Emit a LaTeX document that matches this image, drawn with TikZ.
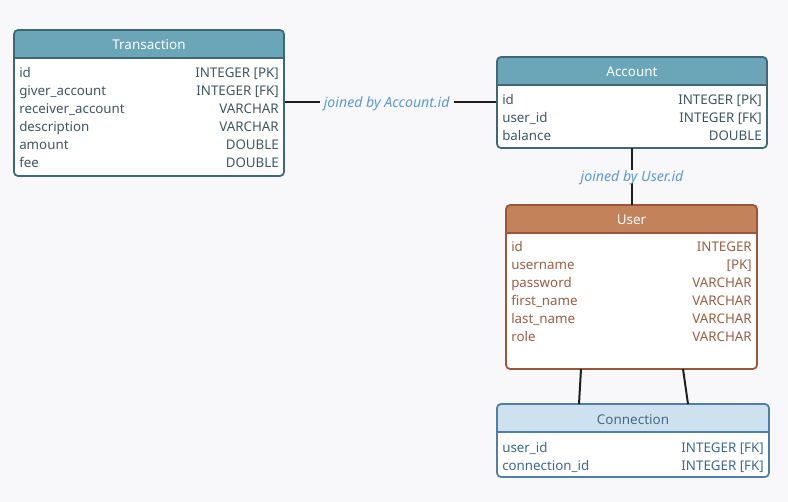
\documentclass[tikz,border=0pt]{standalone}
\usepackage{fontspec}
\setmainfont{Noto Sans}
\usetikzlibrary{fit}
\definecolor{bg}{HTML}{F8F8FB}
\definecolor{thdr}{HTML}{6AA5B8}
\definecolor{tbrd}{HTML}{3E6878}
\definecolor{ttxt}{HTML}{3E5863}
\definecolor{uhdr}{HTML}{C4825B}
\definecolor{ubrd}{HTML}{9B5538}
\definecolor{utxt}{HTML}{9C5E44}
\definecolor{chdr}{HTML}{CDE1EF}
\definecolor{cbrd}{HTML}{4F7FA8}
\definecolor{ctxt}{HTML}{3C6893}
\definecolor{ctit}{HTML}{466A84}
\definecolor{lbl}{HTML}{5A9AD2}
\definecolor{cn}{HTML}{1E1E1E}
\tikzset{
  txt/.style={font=\fontsize{10}{12}\selectfont, inner sep=0pt, text height=9pt, text depth=1pt},
  rowl/.style={txt, anchor=west},
  rowr/.style={txt, anchor=east},
  ttl/.style={txt, font=\fontsize{10.1}{12}\selectfont},
  conn/.style={draw=cn, line width=1.5pt},
  jlbl/.style={txt, text=lbl, font=\fontsize{10.6}{12}\selectfont\itshape, fill=bg, inner xsep=3pt, inner ysep=0pt},
}
% name, x1, y1, x2, y2, header-bottom, colour prefix, title
\newcommand\ertable[8]{%
  \begin{scope}
    \clip[rounded corners=3pt] (#2,#3) rectangle (#4,#5);
    \fill[white] (#2,#3) rectangle (#4,#5);
    \fill[#7hdr] (#2,#3) rectangle (#4,#6);
  \end{scope}
  \draw[#7brd, line width=1.3pt] (#2,#6) -- (#4,#6);
  \node[fit={(#2,#3) (#4,#5)}, inner sep=0pt, draw=#7brd, line width=1.3pt, rounded corners=3pt] (#1) {};
}
\begin{document}
\begin{tikzpicture}[x=0.75pt, y=-0.75pt]
\fill[bg] (0,0) rectangle (788,502);
\useasboundingbox (0,0) rectangle (788,502);

% Transaction
\ertable{trans}{14}{30}{284}{176}{58}{t}{Transaction}
\node[ttl, text=white] (transT) at (149,44) {Transaction};
\foreach \y/\a/\b in {72/id/{INTEGER [PK]}, 90/giver\_account/{INTEGER [FK]}, 108/receiver\_account/VARCHAR, 126/description/VARCHAR, 144/amount/DOUBLE, 162/fee/DOUBLE}{
  \node[rowl, text=ttxt] at (19,\y) {\a};
  \node[rowr, text=ttxt] at (279,\y) {\b};
}

% Account
\ertable{acct}{497}{57}{767}{148}{85}{t}{Account}
\node[ttl, text=white] (acctT) at (632,71) {Account};
\foreach \y/\a/\b in {99/id/{INTEGER [PK]}, 117/user\_id/{INTEGER [FK]}, 135/balance/DOUBLE}{
  \node[rowl, text=ttxt] at (502,\y) {\a};
  \node[rowr, text=ttxt] at (762,\y) {\b};
}

% User
\ertable{user}{506}{205}{757}{369}{233}{u}{User}
\node[ttl, text=white] (userT) at (631.5,219) {User};
\foreach \y/\a/\b in {246.5/id/INTEGER, 264.5/username/{[PK]}, 282.5/password/VARCHAR, 300.5/first\_name/VARCHAR, 318.5/last\_name/VARCHAR, 336.5/role/VARCHAR}{
  \node[rowl, text=utxt] at (511,\y) {\a};
  \node[rowr, text=utxt] at (752,\y) {\b};
}

% Connection
\ertable{cnx}{497}{404}{769}{477}{432}{c}{Connection}
\node[ttl, text=ctit] (cnxT) at (633,419) {Connection};
\foreach \y/\a/\b in {447/user\_id/{INTEGER [FK]}, 465/connection\_id/{INTEGER [FK]}}{
  \node[rowl, text=ctxt] at (502,\y) {\a};
  \node[rowr, text=ctxt] at (764,\y) {\b};
}

% connectors
\coordinate (tA) at (trans.east |- 0,102);
\coordinate (aT) at (acct.west |- 0,102);
\draw[conn] (tA) -- (aT) node[jlbl, pos=0.482] (j1) {joined by Account.id};
\coordinate (aU) at (632,148);
\coordinate (uA) at (632,205);
\draw[conn] (aU) -- (uA) node[jlbl, midway] (j2) {joined by User.id};
\coordinate (u1) at (581,369);
\coordinate (c1) at (579,404);
\coordinate (u2) at (683,369);
\coordinate (c2) at (688,404);
\draw[conn] (u1) -- (c1);
\draw[conn] (u2) -- (c2);
\end{tikzpicture}
\end{document}
